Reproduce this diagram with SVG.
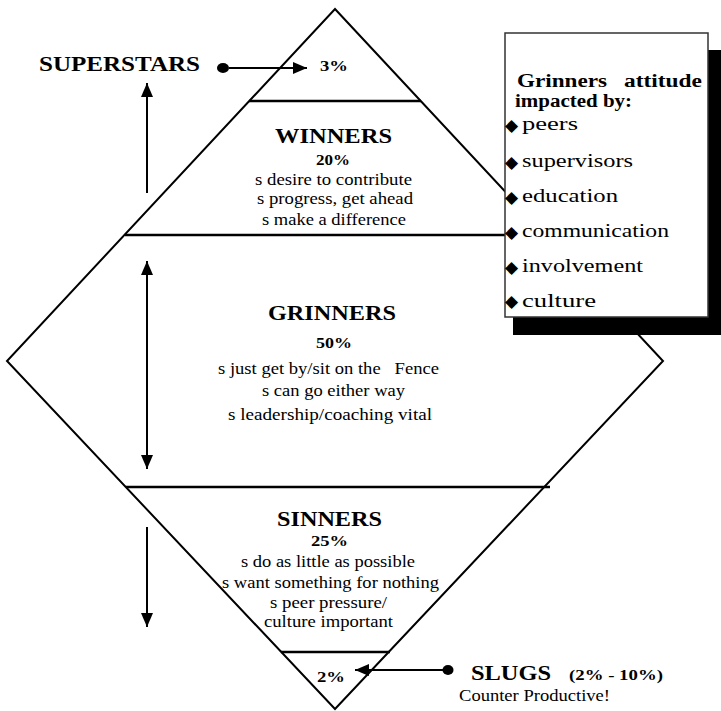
<svg xmlns="http://www.w3.org/2000/svg" width="721" height="711" viewBox="0 0 721 711">
<style>
  text { fill: #000; }
  .b { font-weight: bold; }
  .h { font-size: 21px; font-weight: bold; }
  .p { font-size: 15px; font-weight: bold; }
  .t { font-size: 16px; font-weight: normal; }
  .bx { font-size: 19px; font-weight: normal; }
  .dm { font-size: 17px; }
  .edge { fill: none; stroke: #000; stroke-width: 2; }
  .hl { stroke: #000; stroke-width: 2.5; }
  .arr { stroke: #000; stroke-width: 2; fill: none; }
</style>
<defs>
  <marker id="ah" markerUnits="userSpaceOnUse" markerWidth="14" markerHeight="12" refX="14" refY="6" orient="auto-start-reverse">
    <path d="M0,0 L14,6 L0,12 z" fill="#000"/>
  </marker>
</defs>
<rect width="721" height="711" fill="#fff"/>

<g id="diamond">
  <polygon class="edge" points="335,9 663,361 335,709 7,361"/>
  <line class="hl" x1="249" y1="101" x2="421" y2="101"/>
  <line class="hl" x1="125" y1="235" x2="545" y2="235"/>
  <line class="hl" x1="126" y1="487" x2="550" y2="487"/>
  <line class="hl" x1="281" y1="652" x2="390" y2="652"/>
</g>

<g font-family="'Liberation Serif', 'Times New Roman', 'DejaVu Serif', serif">
<g id="superstars">
  <text class="b" x="39" y="71" font-size="20" textLength="161" lengthAdjust="spacingAndGlyphs">SUPERSTARS</text>
  <text class="p" x="320" y="71" textLength="28" lengthAdjust="spacingAndGlyphs">3%</text>
</g>

<g id="winners">
  <text class="h" x="275" y="143" textLength="117" lengthAdjust="spacingAndGlyphs">WINNERS</text>
  <text class="p" x="316" y="165" textLength="34" lengthAdjust="spacingAndGlyphs">20%</text>
  <text class="t" x="255" y="185" textLength="157" lengthAdjust="spacingAndGlyphs">s desire to contribute</text>
  <text class="t" x="257" y="204" textLength="156" lengthAdjust="spacingAndGlyphs">s progress, get ahead</text>
  <text class="t" x="262" y="225" textLength="144" lengthAdjust="spacingAndGlyphs">s make a difference</text>
</g>

<g id="grinners">
  <text class="h" x="268" y="320" textLength="128" lengthAdjust="spacingAndGlyphs">GRINNERS</text>
  <text class="p" x="316" y="348" textLength="36" lengthAdjust="spacingAndGlyphs">50%</text>
  <text class="t" x="218" y="374" textLength="221" lengthAdjust="spacingAndGlyphs" xml:space="preserve">s just get by/sit on the   Fence</text>
  <text class="t" x="262" y="396" textLength="143" lengthAdjust="spacingAndGlyphs">s can go either way</text>
  <text class="t" x="228" y="420" textLength="204" lengthAdjust="spacingAndGlyphs">s leadership/coaching vital</text>
</g>

<g id="sinners">
  <text class="h" x="277" y="526" textLength="105" lengthAdjust="spacingAndGlyphs">SINNERS</text>
  <text class="p" x="311" y="546" textLength="37" lengthAdjust="spacingAndGlyphs">25%</text>
  <text class="t" x="241" y="567" textLength="174" lengthAdjust="spacingAndGlyphs">s do as little as possible</text>
  <text class="t" x="222" y="588" textLength="217" lengthAdjust="spacingAndGlyphs">s want something for nothing</text>
  <text class="t" x="270" y="608" textLength="117" lengthAdjust="spacingAndGlyphs">s peer pressure/</text>
  <text class="t" x="264" y="627" textLength="129" lengthAdjust="spacingAndGlyphs">culture important</text>
</g>

<g id="slugs">
  <text class="p" x="317" y="682" textLength="28" lengthAdjust="spacingAndGlyphs">2%</text>
  <text class="b" x="471" y="680" font-size="20" textLength="80" lengthAdjust="spacingAndGlyphs">SLUGS</text>
  <text class="p" x="569" y="680" textLength="94" lengthAdjust="spacingAndGlyphs">(2% - 10%)</text>
  <text class="t" x="459" y="701" textLength="151" lengthAdjust="spacingAndGlyphs">Counter Productive!</text>
</g>

<g id="attitude-box">
  <rect x="513" y="50" width="208" height="285" fill="#000"/>
  <rect x="505" y="33" width="203" height="284" fill="#fff" stroke="#333" stroke-width="1.5"/>
  <text class="b" x="517" y="87" font-size="18" textLength="90" lengthAdjust="spacingAndGlyphs">Grinners</text>
  <text class="b" x="624" y="87" font-size="18" textLength="78" lengthAdjust="spacingAndGlyphs">attitude</text>
  <text class="b" x="515" y="107" font-size="18" textLength="117" lengthAdjust="spacingAndGlyphs">impacted by:</text>
  <g font-family="'DejaVu Sans', sans-serif">
    <text class="dm" x="505" y="131">◆</text>
    <text class="dm" x="505" y="168">◆</text>
    <text class="dm" x="505" y="203">◆</text>
    <text class="dm" x="505" y="238">◆</text>
    <text class="dm" x="505" y="273">◆</text>
    <text class="dm" x="505" y="307">◆</text>
  </g>
  <text class="bx" x="522" y="130" textLength="56" lengthAdjust="spacingAndGlyphs">peers</text>
  <text class="bx" x="522" y="167" textLength="111" lengthAdjust="spacingAndGlyphs">supervisors</text>
  <text class="bx" x="522" y="202" textLength="96" lengthAdjust="spacingAndGlyphs">education</text>
  <text class="bx" x="522" y="237" textLength="147" lengthAdjust="spacingAndGlyphs">communication</text>
  <text class="bx" x="522" y="272" textLength="121" lengthAdjust="spacingAndGlyphs">involvement</text>
  <text class="bx" x="522" y="307" textLength="74" lengthAdjust="spacingAndGlyphs">culture</text>
</g>
</g>

<g id="connectors">
  <ellipse cx="223" cy="68" rx="6" ry="5" fill="#000"/>
  <line class="arr" x1="229" y1="68" x2="307" y2="68" marker-end="url(#ah)"/>
  <line class="arr" x1="147" y1="193" x2="147" y2="83" marker-end="url(#ah)"/>
  <line class="arr" x1="147" y1="261" x2="147" y2="469" marker-start="url(#ah)" marker-end="url(#ah)"/>
  <line class="arr" x1="147" y1="527" x2="147" y2="627" marker-end="url(#ah)"/>
  <ellipse cx="448" cy="670" rx="5.5" ry="5" fill="#000"/>
  <line class="arr" x1="443" y1="670" x2="355" y2="670" marker-end="url(#ah)"/>
</g>
</svg>
